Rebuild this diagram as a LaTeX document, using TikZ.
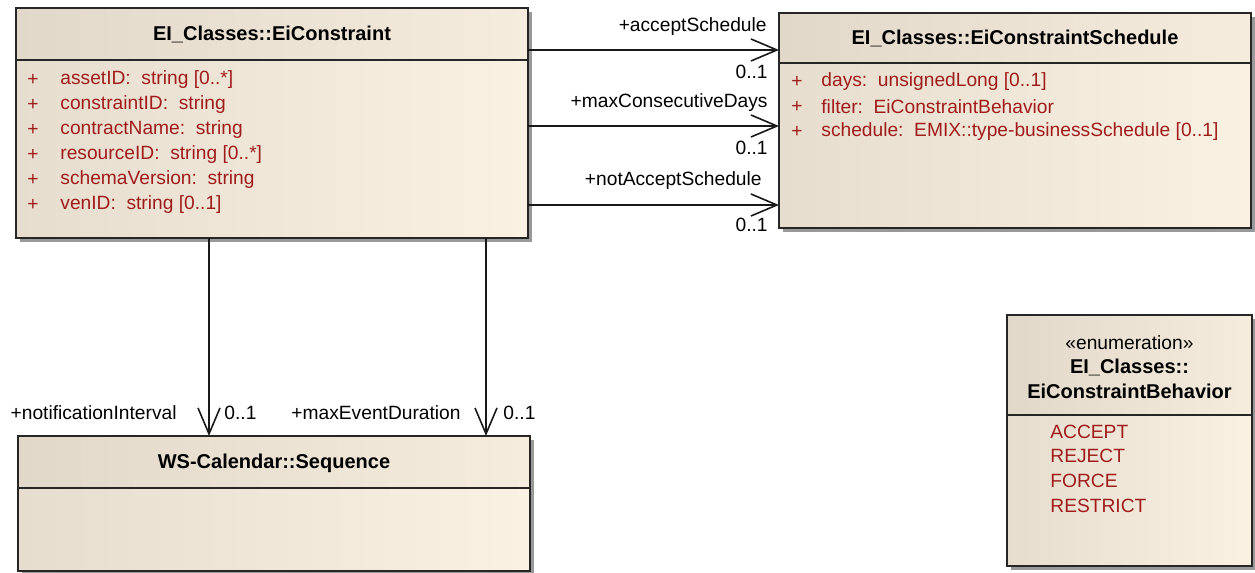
\documentclass[tikz,border=0pt]{standalone}
\usepackage{fontspec}
\setmainfont{Liberation Sans}
\usetikzlibrary{arrows.meta,positioning,shadows}
\definecolor{boxleft}{RGB}{230,221,207}
\definecolor{boxright}{RGB}{251,241,226}
\definecolor{headleft}{RGB}{226,216,201}
\definecolor{headright}{RGB}{246,236,221}
\definecolor{attrred}{RGB}{160,28,28}
\tikzset{>={Straight Barb[length=13pt,width=11pt]},
	umlbox/.style={draw=black!85,line width=1pt,left color=boxleft,right color=boxright,inner sep=0pt,outer sep=0pt,
		drop shadow={shadow xshift=2pt,shadow yshift=-2pt,fill=black!40,opacity=1}},
	umlhead/.style={draw=black!85,line width=1pt,left color=headleft,right color=headright},
	title/.style={inner sep=0pt,font=\bfseries},
	attr/.style={anchor=west,inner sep=0pt,text=attrred},
	role/.style={inner sep=0pt},
	assoc/.style={->,line width=0.8pt,black!90}}

\begin{document}
\begin{tikzpicture}[x=0.5pt,y=-0.5pt,font=\fontsize{9.6}{11.5}\selectfont]
	\useasboundingbox (0,0) rectangle (1255,573);
	% class boxes
	\node (cons) at (272,123) [umlbox,minimum width=256pt,minimum height=115pt] {};
	\node (sched) at (1015,120.5) [umlbox,minimum width=236pt,minimum height=107.5pt] {};
	\node (seq) at (274,503.5) [umlbox,minimum width=256pt,minimum height=67.5pt] {};
	\node (behav) at (1129.5,440.5) [umlbox,minimum width=122.5pt,minimum height=125.5pt] {};
	\draw [umlhead] (cons.north west) rectangle (cons.east |- 0,60);
	\draw [umlhead] (sched.north west) rectangle (sched.east |- 0,63);
	\draw [umlhead] (seq.north west) rectangle (seq.east |- 0,488);
	\draw [umlhead] (behav.north west) rectangle (behav.east |- 0,415);
	% titles
	\node (consT) at (272,34) [title] {EI\_Classes::EiConstraint};
	\node (schedT) at (1015,38) [title] {EI\_Classes::EiConstraintSchedule};
	\node (seqT) at (274,463) [title] {WS-Calendar::Sequence};
	\node (behavS) at (1129.5,343) [role] {«enumeration»};
	\node (behavT1) at (1129.5,367) [title] {EI\_Classes::};
	\node (behavT2) at (1129.5,391) [title] {EiConstraintBehavior};
	% attributes
	\node (consP1) at (27,80) [attr] {+};
	\node (consP2) at (27,105) [attr] {+};
	\node (consP3) at (27,130) [attr] {+};
	\node (consP4) at (27,155) [attr] {+};
	\node (consP5) at (27,180) [attr] {+};
	\node (consP6) at (27,205) [attr] {+};
	\node (consA1) at (60,80) [attr] {assetID:\ \ string [0..*]};
	\node (consA2) at (60,105) [attr] {constraintID:\ \ string};
	\node (consA3) at (60,130) [attr] {contractName:\ \ string};
	\node (consA4) at (60,155) [attr] {resourceID:\ \ string [0..*]};
	\node (consA5) at (60,180) [attr] {schemaVersion:\ \ string};
	\node (consA6) at (60,205) [attr] {venID:\ \ string [0..1]};
	\node (schedP1) at (791,82) [attr] {+};
	\node (schedP2) at (791,107) [attr] {+};
	\node (schedP3) at (791,132) [attr] {+};
	\node (schedA1) at (821,82) [attr] {days:\ \ unsignedLong [0..1]};
	\node (schedA2) at (821,107) [attr] {filter:\ \ EiConstraintBehavior};
	\node (schedA3) at (821,132) [attr] {schedule:\ \ EMIX::type-businessSchedule [0..1]};
	\node (behavL1) at (1050,432) [attr] {ACCEPT};
	\node (behavL2) at (1050,456) [attr] {REJECT};
	\node (behavL3) at (1050,481) [attr] {FORCE};
	\node (behavL4) at (1050,506) [attr] {RESTRICT};
	% associations
	\draw [assoc] (cons.east |- 0,50) -- (sched.west |- 0,50);
	\draw [assoc] (cons.east |- 0,126) -- (sched.west |- 0,126);
	\draw [assoc] (cons.east |- 0,205) -- (sched.west |- 0,205);
	\draw [assoc] (cons.south -| 209,0) -- (seq.north -| 209,0);
	\draw [assoc] (cons.south -| 486,0) -- (seq.north -| 486,0);
	% role names and multiplicities
	\node (accR) at (767,27) [role,anchor=east] {+acceptSchedule};
	\node (accM) at (768,72) [role,anchor=east] {0..1};
	\node (maxR) at (768,103) [role,anchor=east] {+maxConsecutiveDays};
	\node (maxM) at (768,148) [role,anchor=east] {0..1};
	\node (notR) at (762,181) [role,anchor=east] {+notAcceptSchedule};
	\node (notM) at (768,225) [role,anchor=east] {0..1};
	\node (notiR) at (177,413) [role,anchor=east] {+notificationInterval};
	\node (notiM) at (224,413) [role,anchor=west] {0..1};
	\node (durR) at (461,413) [role,anchor=east] {+maxEventDuration};
	\node (durM) at (503,413) [role,anchor=west] {0..1};
\end{tikzpicture}
\end{document}
